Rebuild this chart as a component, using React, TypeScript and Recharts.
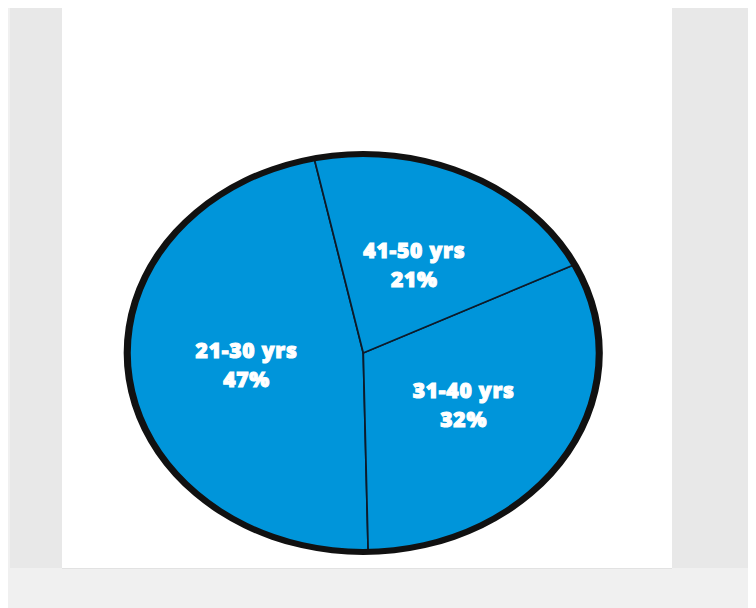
import { PieChart, Pie, Cell } from "recharts";

const ageGroups = ["21-30 yrs", "31-40 yrs", "41-50 yrs"];
const shares = [47, 32, 21];

const data = ageGroups.map((name, i) => ({ name, value: shares[i] }));
const outline = [{ name: "outline", value: 100 }];

// the original pie is stretched sideways into an ellipse
const STRETCH = 1.186;

function renderLabel(props: any) {
  const { cx, cy, midAngle, outerRadius, name, value } = props;
  const r = outerRadius * 0.5;
  const rad = (Math.PI / 180) * midAngle;
  const x = cx + r * Math.cos(rad);
  const y = cy - r * Math.sin(rad);
  return (
    <text
      transform={`translate(${x},${y}) scale(${1 / STRETCH},1)`}
      textAnchor="middle"
      fill="#ffffff"
      stroke="#ffffff"
      strokeWidth={1.1}
      fontFamily="'Open Sans', sans-serif"
      fontWeight={800}
      fontSize={21}
      letterSpacing={0.8}
    >
      <tspan x={0} dy={-6}>
        {name}
      </tspan>
      <tspan x={0} dy={29}>
        {value}%
      </tspan>
    </text>
  );
}

export default function App() {
  return (
    <div
      style={{
        position: "relative",
        width: 748,
        height: 600,
        background: "#f0f0f0",
        overflow: "hidden",
      }}
    >
      <div style={{ position: "absolute", left: 2, top: 0, width: 52, height: 560, background: "#e8e8e8" }} />
      <div style={{ position: "absolute", left: 54, top: 0, width: 610, height: 560, background: "#ffffff", borderBottom: "1px solid #e2e2e2" }} />
      <div style={{ position: "absolute", left: 664, top: 0, width: 84, height: 560, background: "#e8e8e8" }} />
      <div
        style={{
          position: "absolute",
          left: 54,
          top: 0,
          width: 508,
          height: 560,
          transform: `scaleX(${STRETCH})`,
          transformOrigin: "0 0",
        }}
      >
        <PieChart width={508} height={560} margin={{ top: 0, right: 0, bottom: 0, left: 0 }}>
          <Pie
            data={data}
            dataKey="value"
            nameKey="name"
            cx={254}
            cy={345}
            outerRadius={198}
            startAngle={102}
            endAngle={462}
            stroke="#0d1b2a"
            strokeWidth={1.5}
            label={renderLabel}
            labelLine={false}
            isAnimationActive={false}
          >
            {data.map((d) => (
              <Cell key={d.name} fill="#0095da" />
            ))}
          </Pie>
          <Pie
            data={outline}
            dataKey="value"
            cx={254}
            cy={345}
            innerRadius={196}
            outerRadius={202}
            startAngle={0}
            endAngle={360}
            fill="#111111"
            stroke="none"
            isAnimationActive={false}
          />
        </PieChart>
      </div>
    </div>
  );
}
